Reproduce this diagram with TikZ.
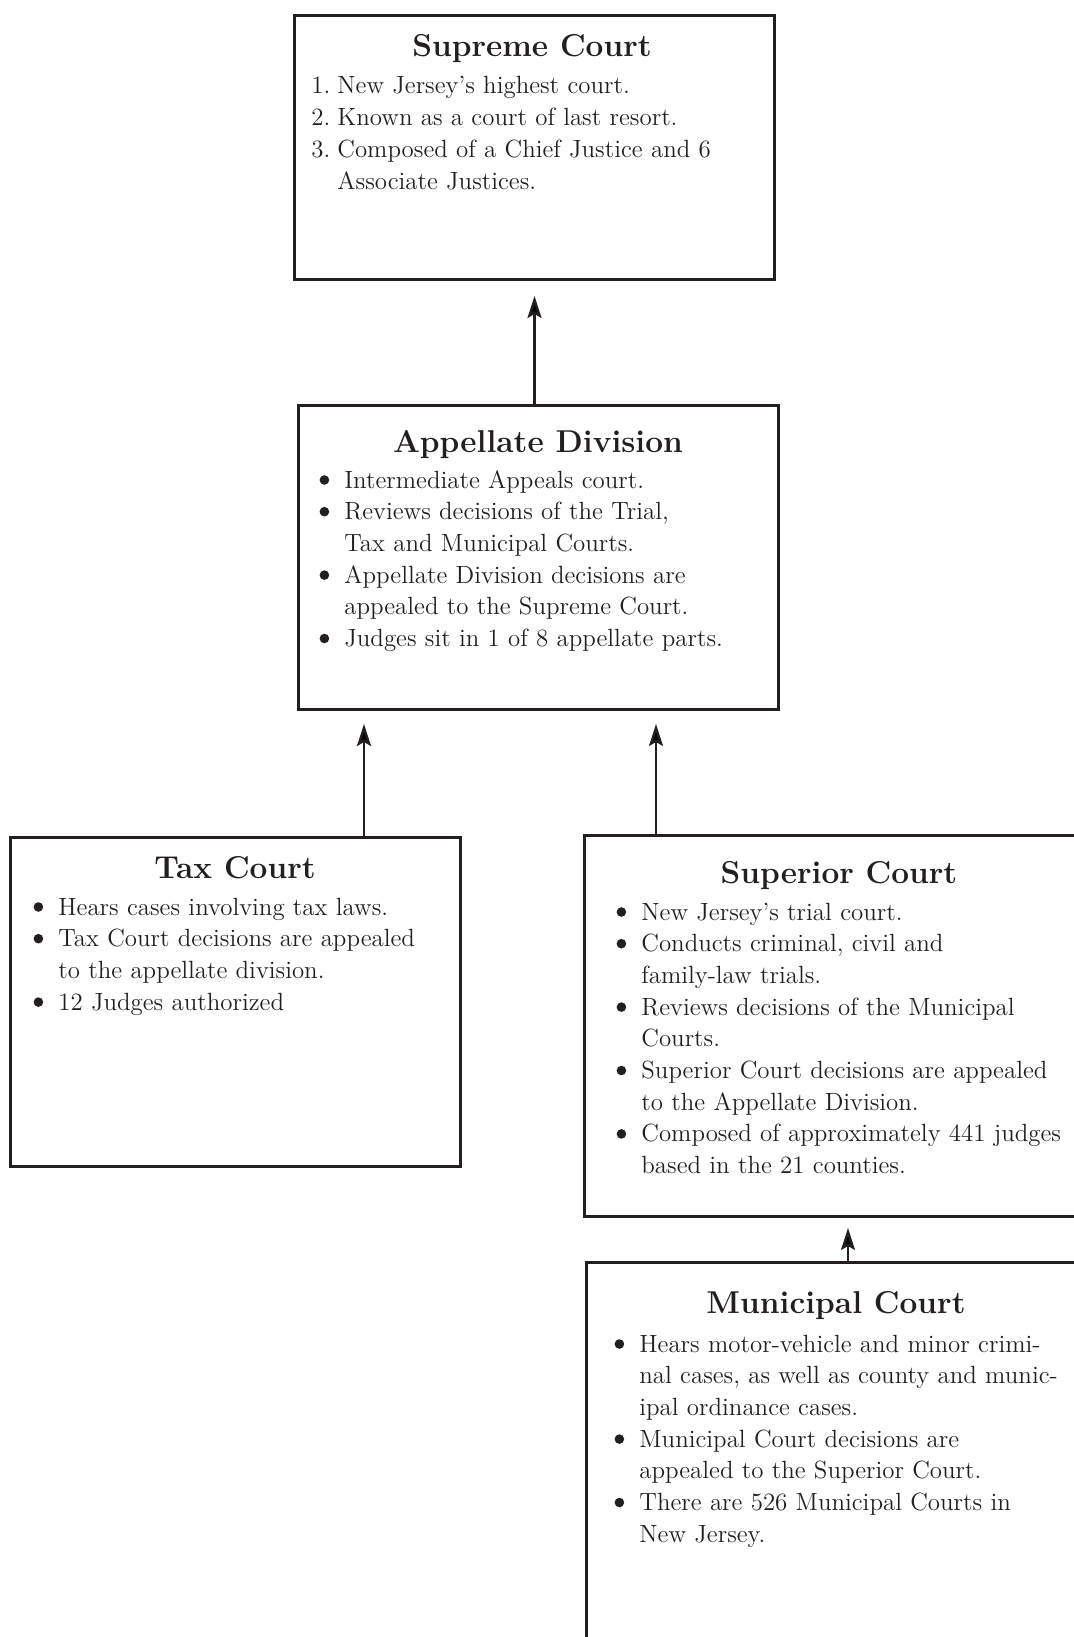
\documentclass[tikz,border=0pt]{standalone}
\usepackage{xcolor}
\usepackage{tikz}
\usetikzlibrary{arrows.meta, positioning}
\definecolor{ink}{HTML}{231F20}
\newcommand{\bitem}{\makebox[12pt][r]{\tikz[baseline=-4pt]\fill[ink] (0,0) circle (2.4pt);\hspace{7.6pt}}}
\newcommand{\bcont}{\hspace*{12pt}}
\newcommand{\nitem}[1]{\makebox[13pt][l]{#1.}}
\tikzset{
  court/.style={rectangle, draw=ink, line width=1.5pt, inner sep=0pt, anchor=north west},
  heading/.style={anchor=base, inner sep=0pt, text=ink, font=\fontsize{15.8}{18}\selectfont\bfseries},
  notes/.style={anchor=base west, inner sep=0pt, text=ink, text width=250pt, align=left, font=\fontsize{12.45}{15.85}\selectfont},
  arrow/.style={-{Stealth[length=11pt, width=7pt, inset=2pt]}, line width=1.2pt, draw=ink},
}
\begin{document}
\begin{tikzpicture}[x=0.5pt, y=-0.5pt]
    \useasboundingbox (0,0) rectangle (1074,1637);
    \clip (0,0) rectangle (1074,1637);
    % boxes
    \node[court, minimum width=240pt, minimum height=132pt] (supreme) at (293,14) {};
    \node[court, minimum width=240pt, minimum height=152pt] (appellate) at (297,404) {};
    \node[court, minimum width=225pt, minimum height=164.5pt] (tax) at (9,836) {};
    \node[court, minimum width=260pt, minimum height=190.5pt] (superior) at (583,834) {};
    \node[court, minimum width=260pt, minimum height=210pt] (municipal) at (585,1261) {};
    % headings
    \node[heading] (supremeT) at (532,57) {Supreme Court};
    \node[heading] (appellateT) at (538,452) {Appellate Division};
    \node[heading] (taxT) at (235,878) {Tax Court};
    \node[heading] (superiorT) at (839,883) {Superior Court};
    \node[heading] (municipalT) at (836,1313) {Municipal Court};
    % notes
    \node[notes] (supremeN) at (311,94) {\nitem{1}New Jersey’s highest court.\\
      \nitem{2}Known as a court of last resort.\\
      \nitem{3}Composed of a Chief Justice and 6\\
      \hspace*{13pt}Associate Justices.};
    \node[notes] (appellateN) at (320,488) {\bitem Intermediate Appeals court.\\
      \bitem Reviews decisions of the Trial,\\
      \bcont Tax and Municipal Courts.\\
      \bitem Appellate Division decisions are\\
      \bcont appealed to the Supreme Court.\\
      \bitem Judges sit in 1 of 8 appellate parts.};
    \node[notes] (taxN) at (34,915) {\bitem Hears cases involving tax laws.\\
      \bitem Tax Court decisions are appealed\\
      \bcont to the appellate division.\\
      \bitem 12 Judges authorized};
    \node[notes] (superiorN) at (617,920) {\bitem New Jersey’s trial court.\\
      \bitem Conducts criminal, civil and\\
      \bcont family-law trials.\\
      \bitem Reviews decisions of the Municipal\\
      \bcont Courts.\\
      \bitem Superior Court decisions are appealed\\
      \bcont to the Appellate Division.\\
      \bitem Composed of approximately 441 judges\\
      \bcont based in the 21 counties.};
    \node[notes] (municipalN) at (615,1352) {\bitem Hears motor-vehicle and minor crimi-\\
      \bcont nal cases, as well as county and munic-\\
      \bcont ipal ordinance cases.\\
      \bitem Municipal Court decisions are\\
      \bcont appealed to the Superior Court.\\
      \bitem There are 526 Municipal Courts in\\
      \bcont New Jersey.};
    % appeals
    \coordinate (taxup) at (364,0);
    \coordinate (superiorup) at (656,0);
    \coordinate (municipalup) at (848,0);
    \draw[arrow, shorten >=7.5pt] (appellate.north -| supreme.south) -- (supreme.south);
    \draw[arrow, shorten >=6.5pt] (tax.north -| taxup) -- (appellate.south -| taxup);
    \draw[arrow, shorten >=6.5pt] (superior.north -| superiorup) -- (appellate.south -| superiorup);
    \draw[arrow, shorten >=5pt] (municipal.north -| municipalup) -- (superior.south -| municipalup);
  \end{tikzpicture}
\end{document}
